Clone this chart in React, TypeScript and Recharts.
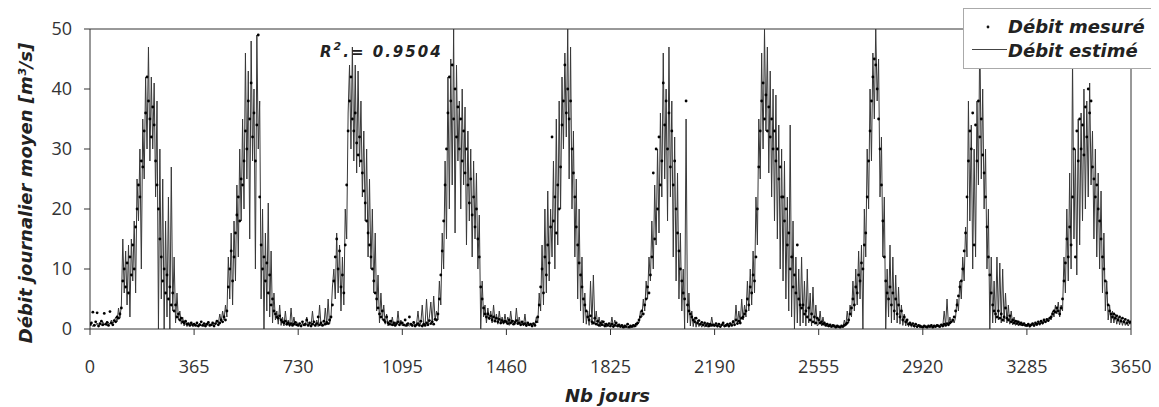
import React from "react";
import { ComposedChart, Line, XAxis, YAxis, ReferenceLine, Legend, Label } from "recharts";

// Measured daily discharge (m3/s), sampled every 5 days, one array per year
const M1 = [0.8,1.0,2.8,0.6,1.2,2.7,0.5,0.9,1.3,0.7, 2.6,0.8,1.1,0.6,2.9,1.0,0.7,1.4,1.2,2.0, 1.8,2.5,3.5,8,10,7,11,6,12,9, 14,10,17,20,24,22,28,27,33,36, 42,38,35,32,37,34,28,24,20,15, 12,8,10,6,9,5,7,4,6,3, 4,2,2.5,1.5,1.8,1.2,1.0,1.3,0.8,0.9, 0.6,1.0,0.7];
const M2 = [0.8,0.6,1.0,0.5,0.7,1.2,0.6,0.9,0.5,0.8, 1.1,0.6,0.7,1.0,0.5,0.9,1.3,0.7,1.0,1.5, 1.2,2.0,1.5,3,7,10,13,8,12,16, 19,22,18,25,24,28,33,30,38,35, 41,32,36,28,34,49,22,14,10,12, 8,11,6,9,4,5,3,2.5,2,1.8, 2.2,1.5,1.2,1.0,1.3,0.8,1.0,0.7,0.9,0.6, 0.8,1.1,0.7];
const M3 = [0.6,0.9,0.5,1.2,0.7,0.8,1.5,0.6,1.0,0.5, 0.8,1.2,0.6,0.9,2.0,0.7,1.0,0.6,1.3,0.8, 1.1,0.9,1.5,2,4,8,12,15,10,13, 7,9,6,14,24,33,38,42,35,33, 36,31,29,32,28,26,23,21,18,16, 14,12,10,8,6,5,3.5,2.5,2,3, 1.5,1.2,2,1.0,0.8,1.3,0.7,1.0,0.6,0.9, 1.2,0.7,1.0];
const M4 = [1.0,0.7,1.5,0.6,0.9,2.0,0.8,0.6,1.1,0.5, 0.7,0.9,0.6,1.3,0.5,0.8,0.6,1.0,0.7,1.4, 0.9,1.2,0.8,1.6,1.5,2.5,5,9,13,18, 24,30,36,42,38,44,35,40,32,37, 30,35,28,33,26,30,24,21,25,19, 22,17,20,15,12,7,5,3.5,2.5,2, 2.5,1.8,2.2,1.5,2,1.3,1.8,1.2,1.6,1.0, 1.4,1.1,1.3];
const M5 = [1.2,0.9,1.5,1.0,1.3,0.8,1.1,1.4,0.9,1.0, 0.7,1.2,0.8,0.9,0.6,1.0,0.7,0.8,0.5,0.9, 0.6,1.2,2,4,7,10,6,12,9,14, 11,17,32,18,22,16,24,20,27,34, 38,44,36,40,35,38,30,26,22,17, 14,11,9,7,5,4,3,2,1.5,2.2, 1.2,1.0,1.8,0.8,1.3,0.6,1.0,0.7,1.2,0.5, 0.8,0.6,0.9];
const M6 = [0.5,0.8,0.4,0.6,1.0,0.5,0.7,0.4,0.6,0.3, 0.5,0.4,0.8,0.3,0.5,0.4,0.6,0.5,0.8,1.0, 1.5,2,3,2.5,4,5,7,6,9,12, 26,15,30,20,32,24,28,41,34,38, 30,36,27,33,24,28,20,16,13,10, 8,6,5,38,4,3,2.5,2,1.5,1.2, 1.8,1.0,1.4,0.8,1.1,0.7,1.0,0.6,0.9,0.5, 0.8,0.6,0.7];
const M7 = [0.6,0.9,0.5,0.8,0.4,0.7,1.0,0.5,0.6,0.8, 0.5,0.9,0.6,1.2,0.7,1.5,0.9,1.3,1.0,1.8, 2.0,2.5,3,5,4,7,6,9,8,12, 20,27,33,38,41,35,39,33,37,32, 35,30,33,28,30,25,27,22,22,18, 20,14,16,10,12,7,9,6,14,5, 4,3.5,4,2.5,3,2,3.5,1.5,2.5,1.2, 2,1.0,1.8];
const M8 = [1.5,1.0,1.2,0.8,1.0,0.6,0.8,0.5,0.7,0.4, 0.6,0.5,0.3,0.5,0.4,0.3,0.5,0.4,0.6,0.8, 1.0,1.5,2.5,3.5,5,4,7,6,9,8, 11,10,14,16,22,28,33,38,42,45, 44,40,35,30,24,18,12,8,6,5, 7,4,6,3,5,2.5,4,2,3,1.5, 2,1.2,1.5,0.8,1.0,0.7,0.9,0.5,0.8,0.4, 0.6,0.5,0.4];
const M9 = [0.3,0.5,0.4,0.3,0.5,0.4,0.6,0.3,0.5,0.4, 0.6,0.5,0.4,0.7,0.5,0.8,0.6,0.9,0.7,1.0, 1.2,1.5,2,3,4,5.5,7,8,10,13, 16,22,28,33,30,36,14,34,28,38, 32,35,29,26,22,17,12,9,6,4, 3,2.5,2,3,1.8,2.5,1.5,2,3.5,1.8, 1.5,2.2,1.2,1.5,1.0,1.3,0.9,1.2,0.8,1.0, 0.7,0.9,0.6];
const M10 = [0.6,0.8,0.5,0.7,0.9,0.6,1.0,0.8,1.2,0.9, 1.3,1.0,1.5,1.2,1.6,1.4,1.8,2,2.5,3, 2.8,3.5,3,2.5,3.5,5,8,11,15,12, 17,14,22,30,12,33,28,35,30,34, 29,37,32,40,36,38,27,25,22,24, 20,18,15,12,10,8,6,4,3,2.5, 2,2.5,1.8,2.2,1.5,2,1.3,1.8,1.2,1.6, 1.0,1.4,1.1];
const M_LAST = 1.2;

// Estimated daily discharge (m3/s), sampled every 5 days, one array per year
const E1 = [0.5,0.7,0.4,0.8,0.6,1.0,0.5,0.8,0.6,1.2, 0.7,0.9,0.5,1.1,0.8,1.5,0.9,1.3,2,1.2, 3.5,1.8,4,15,6,13,4,14,2,15, 8,18,6,25,18,30,10,35,25,42, 30,47,28,42,30,41,22,38,0,30, 5,25,0,18,2,22,0,27,3,12, 1,6,1.5,3,0.8,2,0.5,1.5,0.4,1, 0.5,0.8,0.4];
const E2 = [0.5,0.8,0.4,0.6,1.0,0.5,0.7,0.4,0.9,0.6, 1.2,0.5,0.8,0.6,1.0,0.7,1.5,0.9,2.5,1.2, 3,1.5,4,2,12,5,16,4,18,8, 24,12,30,18,35,20,46,25,43,15, 48,28,40,10,49,30,38,5,20,0, 16,3,21,2,13,1,6,1.5,3,0.8, 4,0.6,2,0.5,3,0.6,1.5,0.4,3.5,0.5, 2,0.6,1.2];
const E3 = [0.5,0.7,0.4,1.0,0.6,0.5,2,0.5,0.8,0.4, 3,0.6,0.5,1.5,0.4,4,0.6,0.8,0.5,3.5, 0.7,5,0.8,2,7,10,5,16,6,14, 3,12,4,20,15,36,44,30,47,28, 44,26,43,27,38,22,33,18,30,12, 25,10,20,6,16,3,9,1,6,1.5, 4,0.8,2.5,0.5,1.5,0.6,2,0.5,1.2,0.6, 3,0.5,1.5];
const E4 = [0.5,0.8,0.4,1.0,0.6,0.5,0.7,0.4,1.2,0.5, 0.8,3,0.6,1.0,4,0.5,0.8,5,0.7,2, 4.5,1,5.5,1.5,3,1.5,8,4,16,10, 28,15,42,20,45,24,50,16,44,28, 38,20,40,24,37,14,33,18,30,12, 28,15,26,10,19,0,8,2,4,1, 3.5,1.5,3,1,4,1.2,2.5,0.8,3,1, 2,0.8,2.5];
const E5 = [0.8,2,0.6,3,1.0,1.5,0.7,3.5,0.8,2, 0.6,1.2,0.5,2.5,0.4,1,0.5,0.8,0.4,1, 0.6,2,1,6,3,14,4,20,6,23, 8,20,12,28,10,35,14,38,20,42, 30,46,32,50,25,47,20,33,12,25, 5,20,3,12,1,6,0.8,3,0.6,8, 0.7,9,0.8,3,0.5,2,0.4,1.5,0.5,1, 0.3,0.8,0.4];
const E6 = [0.4,2,0.3,1.5,0.4,0.8,0.3,0.6,0.3,0.5, 0.2,0.4,0.2,0.3,0.2,0.4,0.3,0.5,0.4,0.8, 1,3,2,5,3,8,5,12,8,18, 10,24,14,30,16,36,22,46,25,40, 18,47,22,38,12,32,8,26,5,16, 3,10,0,35,1,6,0.5,3,0.4,2, 0.3,1.5,0.4,1,0.3,0.8,0.3,0.6,0.3,1, 0.4,2,0.5];
const E7 = [0.4,0.7,0.3,0.6,0.3,0.5,0.8,0.4,0.5,0.6, 0.3,0.8,0.5,1.5,0.6,4,0.8,3,1,5, 1.5,4,2,8,3,10,4,13,6,22, 14,35,25,46,30,50,33,47,26,43, 22,40,18,39,15,34,10,30,8,28, 5,22,3,34,2,18,0,12,1,10, 0.5,12,1,8,0.5,10,1,6,0.5,7, 0.8,4,0.5];
const E8 = [0.8,3,0.5,2,0.6,1,0.4,0.6,0.3,0.5, 0.3,0.4,0.2,0.3,0.3,0.2,0.4,0.3,1.5,0.5, 3,1,4,2,8,3,10,4,13,5, 14,0,20,12,30,20,40,28,46,35, 50,38,45,22,32,12,22,0,10,2, 14,1,12,1.5,9,1,7,0.8,4,0.6, 2.5,0.5,1.5,0.4,1,0.3,0.6,0.3,0.5,0.2, 0.4,0.2,0.3];
const E9 = [0.2,0.4,0.3,0.2,0.4,0.3,0.5,0.2,0.4,0.3, 0.5,0.4,0.3,0.6,0.4,3,0.5,5,0.6,2, 1,1.5,1,2,5,3,8,5,12,8, 17,12,38,18,34,10,30,12,38,24, 50,25,40,20,30,10,20,0,12,1, 8,1,12,1.5,11,1,10,1.2,6,1, 4,0.8,3,0.7,2,0.6,1.5,0.5,1.2,0.5, 1,0.5,0.8];
const E10 = [0.4,0.6,0.3,0.5,0.7,0.4,0.8,0.5,1,0.6, 1.2,0.8,1.4,1,1.5,1.2,2,1.5,3,2, 4,2.5,4.5,2,4,3,12,6,20,8, 26,10,45,15,30,9,35,14,36,18, 40,20,38,22,41,24,33,15,30,12, 26,10,23,6,16,3,8,1.5,4,1, 3,1,2.5,0.8,2,0.7,1.8,0.6,1.5,0.6, 1.2,0.5,1];
const E_LAST = 0.8;

const MEASURED = [M1, M2, M3, M4, M5, M6, M7, M8, M9, M10];
const ESTIMATED = [E1, E2, E3, E4, E5, E6, E7, E8, E9, E10];

const X_TICKS = [0, 365, 730, 1095, 1460, 1825, 2190, 2555, 2920, 3285, 3650];
const Y_TICKS = [0, 10, 20, 30, 40, 50];

const LEGEND_MEASURED = "Débit mesuré";
const LEGEND_ESTIMATED = "Débit estimé";
const X_TITLE = "Nb jours";
const Y_TITLE = "Débit journalier moyen [m³/s]";
const R2_VALUE = "0.9504";

const data: { day: number; m: number; e: number }[] = [];
MEASURED.forEach((yr, k) => {
  yr.forEach((v, i) => {
    data.push({ day: 365 * k + 5 * i, m: v, e: ESTIMATED[k][i] });
  });
});
data.push({ day: 3650, m: M_LAST, e: E_LAST });

const LABEL_FONT = "'DejaVu Sans', Verdana, sans-serif";
const TICK_FONT = "'Open Sans', sans-serif";
const AXIS = "#333";

const YTitle = (props: any) => {
  const vb = props.viewBox || { x: 22, y: 21, width: 60, height: 300 };
  const x = vb.x + 2;
  const y = vb.y + vb.height / 2 + 14;
  return (
    <text x={x} y={y} transform={`rotate(-90, ${x}, ${y})`} textAnchor="middle"
      fontFamily={LABEL_FONT} fontStyle="italic" fontWeight="bold" fontSize={18} fill="#222">
      {Y_TITLE}
    </text>
  );
};

const XTitle = (props: any) => {
  const vb = props.viewBox || { x: 82, y: 321, width: 1041, height: 50 };
  return (
    <text x={vb.x + vb.width / 2 - 3} y={vb.y + 73} textAnchor="middle"
      fontFamily={LABEL_FONT} fontStyle="italic" fontWeight="bold" fontSize={18} fill="#222">
      {X_TITLE}
    </text>
  );
};

const Overlay = () => (
  <svg width={1151} height={70} style={{ display: "block", overflow: "visible" }}>
    <text x={312} y={49} fontFamily={LABEL_FONT} fontStyle="italic" fontWeight="bold"
      fontSize={15} letterSpacing={2} fill="#222">
      R<tspan dy={-7} fontSize={11}>2</tspan><tspan dy={7}>.= {R2_VALUE}</tspan>
    </text>
    <rect x={955.5} y={0.5} width={189} height={60} fill="#fff" stroke="#aaa" strokeWidth={1} />
    <circle cx={980} cy={19} r={1.4} fill="#111" />
    <text x={1000} y={25} fontFamily={LABEL_FONT} fontStyle="italic" fontWeight="bold" fontSize={18} fill="#222">
      {LEGEND_MEASURED}
    </text>
    <line x1={964} x2={999} y1={41.5} y2={41.5} stroke="#444" strokeWidth={1} />
    <text x={1000} y={49} fontFamily={LABEL_FONT} fontStyle="italic" fontWeight="bold" fontSize={18} fill="#222">
      {LEGEND_ESTIMATED}
    </text>
  </svg>
);

export default function App() {
  return (
    <div style={{ width: 1151, height: 399 }}>
      <ComposedChart width={1151} height={399} data={data}
        margin={{ top: 21, right: 28, bottom: 28, left: 22 }}>
        <XAxis dataKey="day" type="number" domain={[0, 3650]} ticks={X_TICKS} interval={0}
          height={50} tickSize={6} tickMargin={25} allowDataOverflow
          axisLine={{ stroke: AXIS }} tickLine={{ stroke: AXIS }}
          tick={{ fill: "#333", fontSize: 18, fontFamily: TICK_FONT }}>
          <Label content={XTitle} />
        </XAxis>
        <YAxis type="number" domain={[0, 50]} ticks={Y_TICKS} interval={0} width={60}
          tickSize={6} tickMargin={12} allowDataOverflow
          axisLine={{ stroke: AXIS }} tickLine={{ stroke: AXIS }}
          tick={{ fill: "#333", fontSize: 18, fontFamily: TICK_FONT }}>
          <Label content={YTitle} />
        </YAxis>
        <ReferenceLine y={50} stroke={AXIS} strokeWidth={1} />
        <ReferenceLine x={3650} stroke={AXIS} strokeWidth={1} />
        <Line type="linear" dataKey="e" name={LEGEND_ESTIMATED} stroke="#383838" strokeWidth={1}
          dot={false} activeDot={false} isAnimationActive={false} />
        <Line type="linear" dataKey="m" name={LEGEND_MEASURED} stroke="none"
          dot={{ r: 1.4, fill: "#000", stroke: "none" }} activeDot={false} isAnimationActive={false} />
        <Legend layout="horizontal" verticalAlign="middle" align="center"
          wrapperStyle={{ position: "absolute", top: 0, left: 0, width: 1151, height: 70, pointerEvents: "none" }}
          content={() => <Overlay />} />
      </ComposedChart>
    </div>
  );
}
